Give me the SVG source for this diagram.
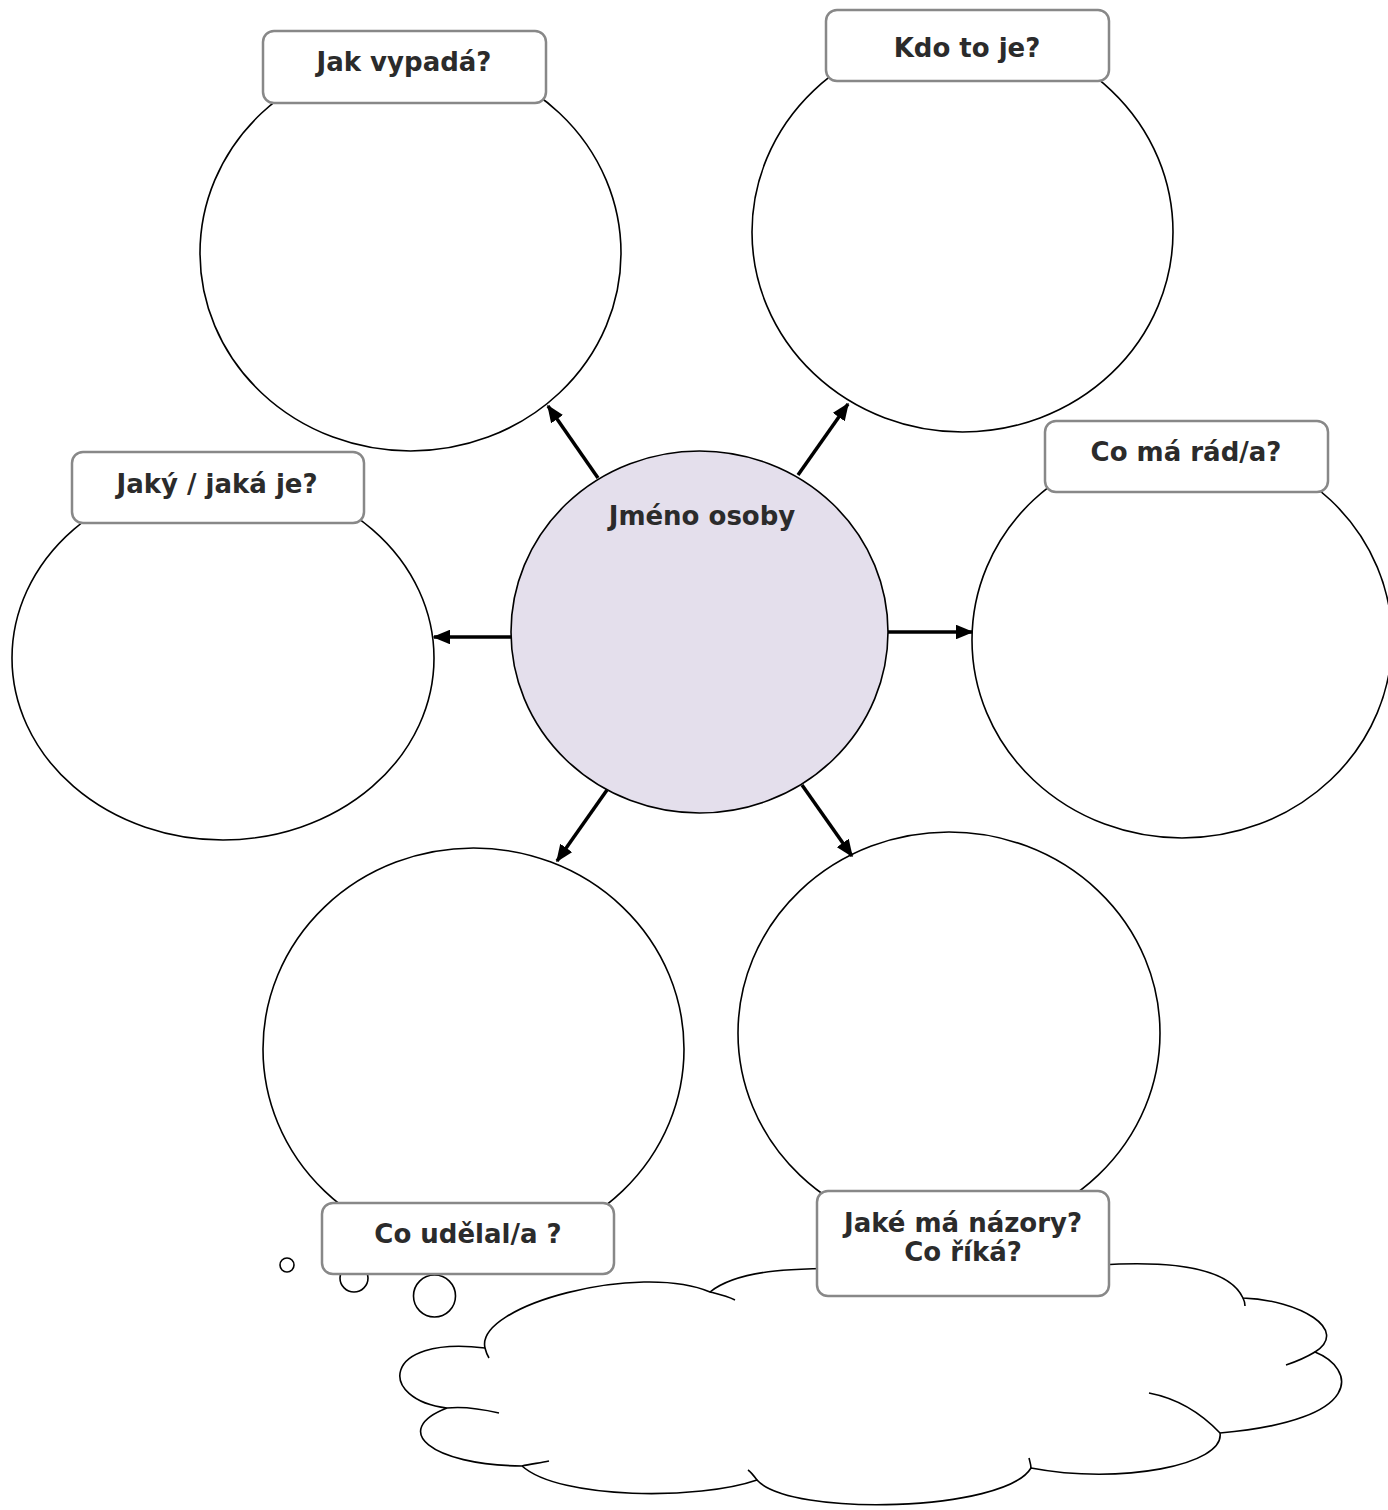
<svg xmlns="http://www.w3.org/2000/svg" width="1388" height="1510" viewBox="0 0 1388 1510">
<defs>
<style>
.c{fill:#fff;stroke:#000;stroke-width:1.6}
.lb{fill:#fff;stroke:#888;stroke-width:2.5}
.t{font-family:"DejaVu Sans",Verdana,sans-serif;font-weight:bold;font-size:26px;fill:#2b2b2b;text-anchor:middle}
.a{stroke:#000;stroke-width:3.5;fill:none;marker-end:url(#ah)}
.cl{fill:#fff;stroke:#000;stroke-width:1.6}
.tl{fill:none;stroke:#000;stroke-width:1.6}
</style>
<marker id="ah" viewBox="0 0 12 10" refX="11" refY="5" markerWidth="5" markerHeight="4.2" orient="auto" markerUnits="strokeWidth">
<path d="M0,0 L12,5 L0,10 z" fill="#000"/>
</marker>
</defs>
<rect width="1388" height="1510" fill="#fff"/>

<g id="cloud">
<path class="cl" d="M485,1348 C475,1305 640,1262 710,1292 C740,1268 800,1268 870,1268 L1100,1265 C1180,1260 1230,1270 1243,1298 C1300,1300 1350,1330 1315,1352 C1355,1368 1368,1420 1220,1433 C1225,1465 1120,1485 1031,1468 C1005,1512 790,1517 757,1480 C700,1500 560,1500 522,1466 C430,1465 390,1430 447,1408 C378,1400 380,1335 485,1348 Z"/>
<path class="tl" d="M485,1348 C486,1352 487,1355 489,1358"/>
<path class="tl" d="M710,1292 C718,1294 727,1296 735,1300"/>
<path class="tl" d="M1243,1298 C1244,1300 1245,1303 1245,1306"/>
<path class="tl" d="M1315,1352 C1305,1358 1295,1362 1286,1365"/>
<path class="tl" d="M1220,1433 C1200,1412 1175,1398 1149,1393"/>
<path class="tl" d="M1031,1468 C1031,1465 1030,1462 1029,1458"/>
<path class="tl" d="M757,1480 C754,1476 751,1472 748,1470"/>
<path class="tl" d="M522,1466 C530,1464 540,1463 549,1461"/>
<path class="tl" d="M447,1408 C465,1406 482,1409 499,1413"/>
</g>

<g id="bubbles">
<circle class="c" cx="287" cy="1265" r="7"/>
<circle class="c" cx="354" cy="1278" r="14"/>
<circle class="c" cx="434.5" cy="1296" r="21"/>
</g>

<g id="node-vypada"><ellipse class="c" cx="410.5" cy="253" rx="210.5" ry="198"/></g>
<g id="node-kdo"><ellipse class="c" cx="962.5" cy="232" rx="210.5" ry="200"/></g>
<g id="node-jaky"><ellipse class="c" cx="223" cy="658" rx="211" ry="182"/></g>
<g id="node-rad"><ellipse class="c" cx="1182" cy="640" rx="210" ry="198"/></g>
<g id="node-udelal"><ellipse class="c" cx="473.5" cy="1049" rx="210.5" ry="201"/></g>
<g id="node-nazory"><ellipse class="c" cx="949" cy="1033" rx="211" ry="201"/></g>

<g id="connectors">
<line class="a" x1="598" y1="478" x2="548" y2="406"/>
<line class="a" x1="798" y1="475" x2="848" y2="404"/>
<line class="a" x1="511" y1="637" x2="434" y2="637"/>
<line class="a" x1="888" y1="632" x2="972" y2="632"/>
<line class="a" x1="607" y1="790" x2="557" y2="861"/>
<line class="a" x1="802" y1="785" x2="852" y2="856"/>
</g>

<g id="node-center">
<ellipse cx="699.5" cy="632" rx="188.5" ry="181" fill="#e4dfec" stroke="#000" stroke-width="1.6"/>
<text class="t" x="702" y="525">Jméno osoby</text>
</g>

<g id="label-vypada">
<rect class="lb" x="263" y="31" width="283" height="72" rx="11"/>
<text class="t" x="404" y="71">Jak vypadá?</text>
</g>
<g id="label-kdo">
<rect class="lb" x="826" y="10" width="283" height="71" rx="11"/>
<text class="t" x="967" y="57">Kdo to je?</text>
</g>
<g id="label-jaky">
<rect class="lb" x="72" y="452" width="292" height="71" rx="11"/>
<text class="t" x="217" y="493">Jaký / jaká je?</text>
</g>
<g id="label-rad">
<rect class="lb" x="1045" y="421" width="283" height="71" rx="11"/>
<text class="t" x="1186" y="461">Co má rád/a?</text>
</g>
<g id="label-udelal">
<rect class="lb" x="322" y="1203" width="292" height="71" rx="11"/>
<text class="t" x="468" y="1243">Co udělal/a ?</text>
</g>
<g id="label-nazory">
<rect class="lb" x="817" y="1191" width="292" height="105" rx="11"/>
<text class="t" x="963" y="1232">Jaké má názory?</text>
<text class="t" x="963" y="1261">Co říká?</text>
</g>
</svg>
